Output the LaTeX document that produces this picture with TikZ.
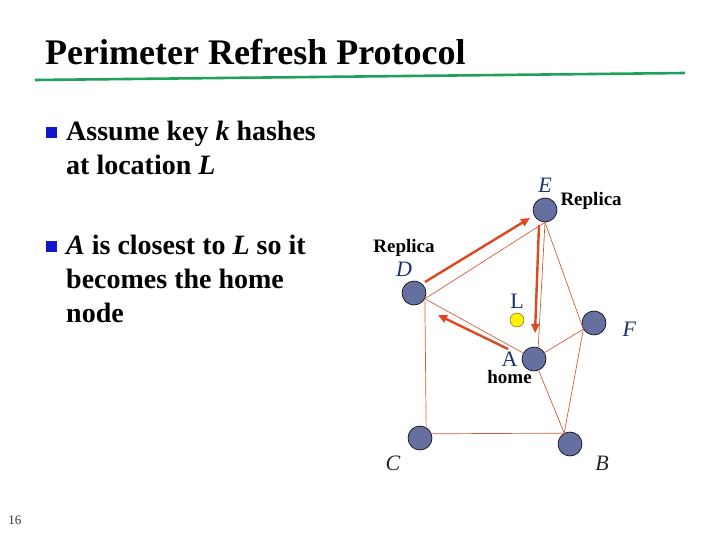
\documentclass[tikz,border=0pt]{standalone}
\usepackage{fontspec}
\setmainfont{Liberation Serif}
\usepackage{xcolor}
\usetikzlibrary{arrows.meta,positioning,calc}
\definecolor{nodeslate}{RGB}{102,112,160}
\definecolor{edgeorange}{RGB}{205,95,60}
\definecolor{arrorange}{RGB}{222,72,32}
\definecolor{labblue}{RGB}{28,48,120}
\definecolor{bulletblue}{RGB}{20,20,200}
\definecolor{rulegreen}{RGB}{32,160,90}

\begin{document}
\begin{tikzpicture}[
    x=1pt, y=-1pt,
    node distance=3pt,
    peer/.style={circle, draw=black, line width=0.6pt, fill=nodeslate, minimum size=24pt, inner sep=0pt},
    keypt/.style={circle, draw=black!70, line width=0.4pt, fill=yellow, minimum size=14pt, inner sep=0pt},
    lab/.style={inner sep=0pt, text=labblue, font=\fontsize{22}{22}\selectfont\itshape},
    labup/.style={inner sep=0pt, text=labblue, font=\fontsize{22}{22}\selectfont},
    tag/.style={inner sep=0pt, font=\fontsize{19}{19}\selectfont\bfseries},
    link/.style={draw=edgeorange, line width=0.7pt},
    push/.style={draw=arrorange, line width=2.4pt, -{Triangle[length=9pt,width=8pt]}},
    bul/.style={fill=bulletblue, minimum size=11pt, inner sep=0pt},
    btext/.style={anchor=base west, align=left, inner sep=0pt, font=\fontsize{28}{34}\selectfont\bfseries}
]
\useasboundingbox (0,0) rectangle (720,540);

% title
\node[anchor=base west, inner sep=0pt, font=\fontsize{36}{36}\selectfont\bfseries] (title) at (45,65) {Perimeter Refresh Protocol};
\draw[rulegreen, line width=2.6pt] (35,80) -- (685,73);

% bullets (base = last line)
\node[bul] (sq1) at (51,133) {};
\node[btext] (txt1) at (66,175) {Assume key \textit{k} hashes\\at location \textit{L}};
\node[bul] (sq2) at (51,246) {};
\node[btext] (txt2) at (66,322) {\textit{A} is closest to \textit{L} so it\\becomes the home\\node};

% peers
\node[peer] (enode) at (545,210) {};
\node[peer] (dnode) at (414,293) {};
\node[peer] (fnode) at (594,323) {};
\node[peer] (anode) at (534,359) {};
\node[peer] (cnode) at (420,438) {};
\node[peer] (bnode) at (570,444) {};
\node[keypt] (lpt) at (517,320) {};

% where the links meet the circles
\coordinate (dport) at (dnode.-28);
\coordinate (eport) at (enode.-90);
\coordinate (fport) at (fnode.210);
\coordinate (ctop) at (cnode.60);
\coordinate (cside) at (cnode.20);
\coordinate (bport) at (bnode.118);

% labels
\node[lab, above=5pt of enode] (elab) {E};
\node[tag, right=3pt of enode, yshift=9pt] (erep) {Replica};
\node[lab, above=4pt of dnode, xshift=-10pt] (dlab) {D};
\node[tag, above=5pt of dlab] (drep) {Replica};
\node[labup, above=4pt of lpt] (llab) {L};
\node[lab, right=16pt of fnode, yshift=-6pt] (flab) {F};
\node[labup, left=4pt of anode] (alab) {A};
\node[tag, below=4pt of alab] (ahome) {home};
\node[lab, text=black!85] (clab) at (393,463) {C};
\node[lab, text=black!85] (blab) at (602,463) {B};

% links
\draw[link] (dport) -- (eport);
\draw[link] (eport) -- (anode.70);
\draw[link] (eport) -- (fport);
\draw[link] (fport) -- (anode);
\draw[link] (fport) -- (bport);
\draw[link] (anode) -- (bport);
\draw[link] (dport) -- (anode);
\draw[link] (dport) -- (ctop);
\draw[link] (cside) -- (bport);

% refresh messages
\draw[push] ([shift={(11,-11)}]dnode.center) -- ([shift={(-15,8)}]enode.center);
\draw[push] ([shift={(-6,15)}]enode.center) -- ([shift={(1,-26)}]anode.center);
\draw[push] ([shift={(-26,-10)}]anode.center) -- ([shift={(24,22)}]dnode.center);

\node[inner sep=0pt, text=black!80, font=\fontsize{13}{13}\selectfont] (pgno) at (15,520) {16};
\end{tikzpicture}
\end{document}
